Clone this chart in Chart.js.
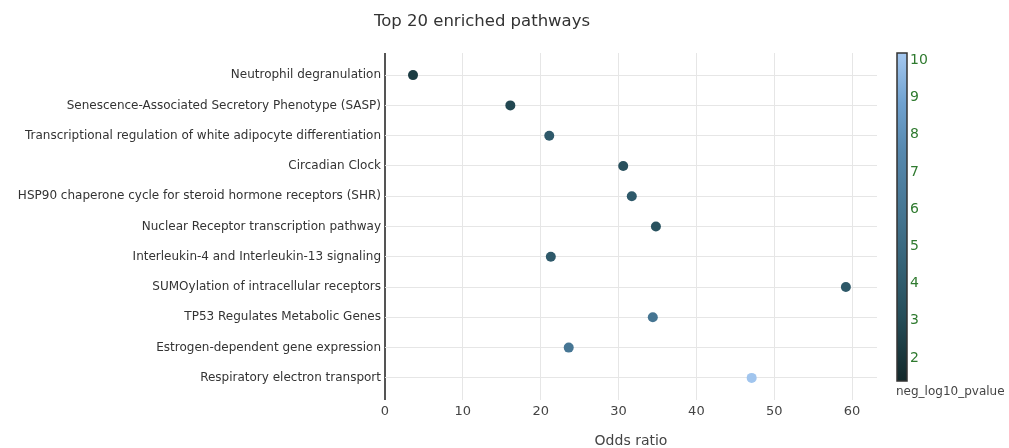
<!DOCTYPE html>
<html>
<head>
<meta charset="utf-8">
<script src="https://cdn.jsdelivr.net/npm/chart.js@4/dist/chart.umd.min.js"></script>
<style>
  html, body { margin: 0; padding: 0; background: #fff; }
  #wrap { width: 1009px; height: 448px; position: relative; }
</style>
</head>
<body>
<div id="wrap"><canvas id="chart"></canvas></div>
<script>
const pathways = [
    'Neutrophil degranulation',
    'Senescence-Associated Secretory Phenotype (SASP)',
    'Transcriptional regulation of white adipocyte differentiation',
    'Circadian Clock',
    'HSP90 chaperone cycle for steroid hormone receptors (SHR)',
    'Nuclear Receptor transcription pathway',
    'Interleukin-4 and Interleukin-13 signaling',
    'SUMOylation of intracellular receptors',
    'TP53 Regulates Metabolic Genes',
    'Estrogen-dependent gene expression',
    'Respiratory electron transport'
];
const oddsRatio = [3.6, 16.1, 21.1, 30.6, 31.7, 34.8, 21.3, 59.2, 34.4, 23.6, 47.1];
const negLog10P = [2.3, 2.8, 3.9, 3.3, 3.9, 3.4, 3.9, 3.8, 5.9, 6.0, 10.1];
const xTicks = [0, 10, 20, 30, 40, 50, 60];
const cbTicks = [2, 3, 4, 5, 6, 7, 8, 9, 10];
const cbRange = [1.38, 10.2];
// colour stops (value fraction, rgb)
const cscale = [
    [0.0, [18, 40, 42]],
    [0.2, [38, 78, 90]],
    [0.35, [52, 98, 118]],
    [0.5, [68, 116, 144]],
    [0.7, [86, 136, 174]],
    [0.85, [112, 162, 208]],
    [1.0, [165, 200, 240]]
];

function colorFor(v) {
    let t = (v - cbRange[0]) / (cbRange[1] - cbRange[0]);
    t = Math.max(0, Math.min(1, t));
    for (let i = 1; i < cscale.length; i++) {
        if (t <= cscale[i][0]) {
            const a = cscale[i - 1], b = cscale[i];
            const f = (t - a[0]) / (b[0] - a[0]);
            const c = a[1].map((k, j) => Math.round(k + (b[1][j] - k) * f));
            return 'rgb(' + c.join(',') + ')';
        }
    }
    return 'rgb(' + cscale[cscale.length - 1][1].join(',') + ')';
}

const points = oddsRatio.map((x, i) => ({ x: x, y: i }));
const colors = negLog10P.map(colorFor);

const FONT = '"DejaVu Sans", Verdana, sans-serif';

// title, axis title and colour bar
const extras = {
    id: 'extras',
    afterDraw(chart) {
        const ctx = chart.ctx;
        const area = chart.chartArea;
        ctx.save();
        ctx.fillStyle = '#333';
        ctx.font = '16.5px ' + FONT;
        ctx.textAlign = 'center';
        ctx.textBaseline = 'middle';
        ctx.fillText('Top 20 enriched pathways', 482, 22);

        ctx.font = '14px ' + FONT;
        ctx.fillStyle = '#444';
        ctx.fillText('Odds ratio', (area.left + area.right) / 2, 441);

        // colour bar
        const bx = 897, bw = 10, top = 53, bottom = 381;
        const g = ctx.createLinearGradient(0, bottom, 0, top);
        cscale.forEach(s => g.addColorStop(s[0], 'rgb(' + s[1].join(',') + ')'));
        ctx.fillStyle = g;
        ctx.fillRect(bx, top, bw, bottom - top);
        ctx.strokeStyle = '#333';
        ctx.lineWidth = 1.5;
        ctx.strokeRect(bx, top, bw, bottom - top);

        ctx.fillStyle = '#2f7a2f';
        ctx.font = '14px ' + FONT;
        ctx.textAlign = 'left';
        cbTicks.forEach(v => {
            const y = bottom - (v - cbRange[0]) / (cbRange[1] - cbRange[0]) * (bottom - top);
            ctx.fillText(String(v), bx + bw + 3, y);
        });
        ctx.fillStyle = '#444';
        ctx.font = '12px ' + FONT;
        ctx.fillText('neg_log10_pvalue', 896, 392);
        ctx.restore();
    }
};

new Chart(document.getElementById('chart'), {
    type: 'scatter',
    data: {
        datasets: [{
            data: points,
            backgroundColor: colors,
            borderColor: colors,
            pointRadius: 5,
            pointHoverRadius: 5,
            borderWidth: 0
        }]
    },
    options: {
        responsive: true,
        maintainAspectRatio: false,
        animation: false,
        layout: { padding: { top: 53, right: 132, left: 0, bottom: 0 } },
        plugins: { legend: { display: false }, tooltip: { enabled: false } },
        scales: {
            x: {
                type: 'linear',
                min: 0,
                max: 63.2,
                afterBuildTicks: axis => { axis.ticks = xTicks.map(v => ({ value: v })); },
                afterFit: axis => { axis.height = 48; },
                border: { display: false },
                grid: {
                    drawTicks: false,
                    color: c => c.tick && c.tick.value === 0 ? '#555' : '#e6e6e6',
                    lineWidth: c => c.tick && c.tick.value === 0 ? 2 : 1
                },
                ticks: { color: '#444', font: { family: FONT, size: 13 }, padding: 4 }
            },
            y: {
                type: 'linear',
                reverse: true,
                min: -0.73,
                max: pathways.length - 1 + 0.73,
                afterBuildTicks: axis => { axis.ticks = pathways.map((p, i) => ({ value: i })); },
                afterFit: axis => { axis.width = 385; },
                border: { display: false },
                grid: { drawTicks: false, color: '#e6e6e6' },
                ticks: {
                    color: '#333',
                    font: { family: FONT, size: 12 },
                    padding: 4,
                    callback: v => pathways[v]
                }
            }
        }
    },
    plugins: [extras]
});
</script>
</body>
</html>
